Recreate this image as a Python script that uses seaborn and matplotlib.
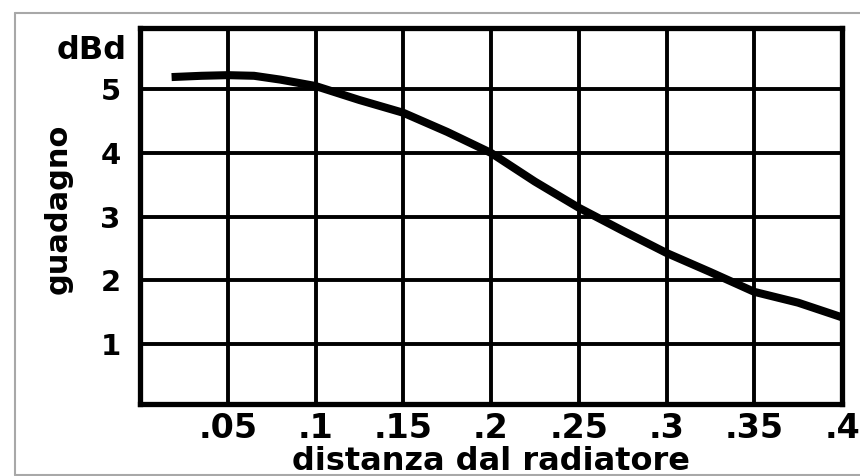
import matplotlib
matplotlib.use("Agg")
import matplotlib.pyplot as plt
from matplotlib.lines import Line2D
from matplotlib.transforms import blended_transform_factory
import seaborn as sns
import pandas as pd

# ---- data ----
distanza = [0.018, 0.035, 0.05, 0.065, 0.08, 0.1, 0.125, 0.15, 0.175, 0.2,
            0.225, 0.25, 0.275, 0.3, 0.325, 0.35, 0.375, 0.4]
guadagno = [5.19, 5.21, 5.22, 5.21, 5.15, 5.05, 4.83, 4.63, 4.33, 4.0,
            3.55, 3.14, 2.78, 2.43, 2.13, 1.82, 1.65, 1.42]
x_ticks = [0.05, 0.1, 0.15, 0.2, 0.25, 0.3, 0.35, 0.4]
x_tick_labels = [".05", ".1", ".15", ".2", ".25", ".3", ".35", ".4"]
y_ticks = [1, 2, 3, 4, 5]
y_tick_labels = ["1", "2", "3", "4", "5"]
x_title = "distanza dal radiatore"
y_title = "guadagno"
unit_label = "dBd"

sns.set_theme(style="white")
plt.rcParams["font.family"] = ["DejaVu Sans"]
plt.rcParams["font.weight"] = "bold"

df = pd.DataFrame({"distanza": distanza, "guadagno": guadagno})

fig = plt.figure(figsize=(8.6, 4.76), dpi=100)
fig.patch.set_facecolor("white")
W, H = 860, 476
ax = fig.add_axes([140 / W, 1 - 404 / H, (842 - 140) / W, (404 - 28) / H])
ax.set_facecolor("white")

sns.lineplot(data=df, x="distanza", y="guadagno", ax=ax, color="black",
             linewidth=5.8, solid_capstyle="butt", zorder=5)

ax.set_xlim(0, 0.4)
ax.set_ylim(0.06, 5.96)
ax.set_xticks(x_ticks)
ax.set_xticklabels(x_tick_labels, fontsize=24, fontweight="bold")
ax.set_yticks(y_ticks)
ax.set_yticklabels(y_tick_labels, fontsize=21, fontweight="bold")
ax.tick_params(axis="x", length=0, pad=6, colors="black")
ax.tick_params(axis="y", length=0, pad=14, colors="black")

ax.grid(True, color="black", linewidth=2.8)
ax.set_axisbelow(True)
for s in ax.spines.values():
    s.set_visible(True)
    s.set_color("black")
    s.set_linewidth(3.8)
    s.set_zorder(6)

ax.set_xlabel(x_title, fontsize=23, fontweight="bold", color="black")
ax.xaxis.set_label_coords(0.5, -0.111)
ax.set_ylabel(y_title, fontsize=22, fontweight="bold", color="black")
ax.yaxis.set_label_coords(-0.096, 0.52)

tr = blended_transform_factory(ax.transAxes, ax.transData)
ax.text(-0.019, 5.6, unit_label, transform=tr, ha="right", va="center",
        fontsize=23, fontweight="bold", color="black")

# light grey frame around the picture
gray = "#a8a8a8"
fig.add_artist(Line2D([15 / W, 15 / W], [1 - 13 / H, 1 - 475 / H], color=gray, lw=1.5))
fig.add_artist(Line2D([15 / W, 1.0], [1 - 13 / H, 1 - 13 / H], color=gray, lw=1.5))
fig.add_artist(Line2D([15 / W, 1.0], [1 - 475 / H, 1 - 475 / H], color=gray, lw=1.5))

fig.savefig("out.png", dpi=100, facecolor="white")
